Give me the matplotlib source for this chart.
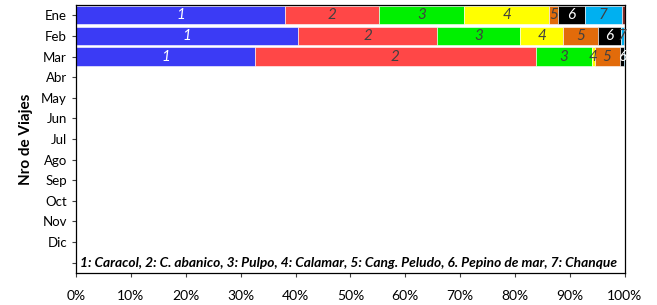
import matplotlib.pyplot as plt
import numpy as np

# ── datos (porcentaje por especie, por mes) ─────────────────
meses = ["Ene", "Feb", "Mar", "Abr", "May", "Jun", "Jul", "Ago",
         "Sep", "Oct", "Nov", "Dic", ""]
especies = ["1", "2", "3", "4", "5", "6", "7", ""]
ene = [38.1, 17.1, 15.5, 15.5, 1.7, 4.8, 6.8, 0.5]
feb = [40.5, 25.3, 15.1, 7.9, 6.3, 4.2, 0.5, 0.2]
mar = [32.6, 51.2, 10.3, 0.4, 4.6, 0.7, 0.2, 0.0]
valores = [ene, feb, mar]

colores = ["#3B3BF5", "#FF4747", "#00F000", "#FFFF00", "#E26B0A",
           "#000000", "#00B0F0", "#7B2A2A"]
color_txt = ["white", "#404040", "#404040", "#404040", "#404040",
             "white", "#404040", "white"]

leyenda = ("1: Caracol, 2: C. abanico, 3: Pulpo, 4: Calamar, 5: Cang. Peludo, "
           "6. Pepino de mar, 7: Chanque")

plt.rcParams["font.family"] = ["Lato", "DejaVu Sans"]

fig = plt.figure(figsize=(6.57, 3.05), dpi=100)
ax = fig.add_axes([0.1157, 0.105, 0.8353, 0.8786])

for i, fila in enumerate(valores):
    izq = 0.0
    for j, v in enumerate(fila):
        if v > 0:
            ax.barh(i, v, left=izq, height=0.88, color=colores[j],
                    edgecolor="white", linewidth=0.4)
            # etiquetas solo para segmentos no despreciables
            if especies[j] and v >= 0.3:
                ax.text(izq + v / 2, i, especies[j], ha="center", va="center",
                        fontsize=11, style="italic", color=color_txt[j])
        izq += v

ax.text(0.8, 12, leyenda, ha="left", va="center", fontsize=9.9,
        style="italic", weight="bold", color="black")

ax.set_xlim(0, 100)
ax.set_ylim(12.5, -0.5)
ax.set_xticks(np.arange(0, 101, 10))
ax.set_xticklabels([f"{t}%" for t in range(0, 101, 10)], fontsize=10)
ax.set_yticks(range(len(meses)))
ax.set_yticklabels(meses, fontsize=9.5)
ax.tick_params(axis="both", direction="out", length=3, width=0.8, color="#404040")
ax.tick_params(axis="x", pad=9)
ax.set_ylabel("Nro de Viajes", fontsize=11, weight="bold", labelpad=6)
for s in ax.spines.values():
    s.set_linewidth(0.9)
    s.set_color("black")

fig.savefig("out.png", dpi=100)
